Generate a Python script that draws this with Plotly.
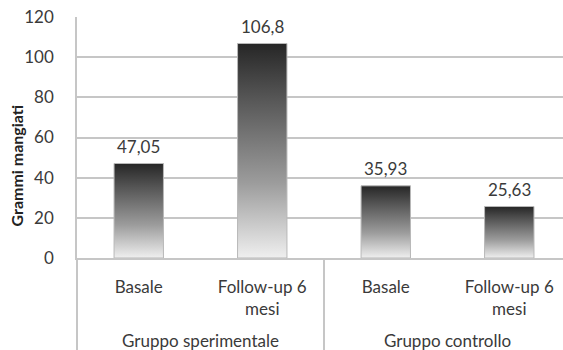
import plotly.graph_objects as go

# Data
groups = ["Gruppo sperimentale", "Gruppo sperimentale", "Gruppo controllo", "Gruppo controllo"]
phases = ["Basale", "Follow-up 6<br>mesi<br>&nbsp;", "Basale", "Follow-up 6<br>mesi<br>&nbsp;"]
values = [47.05, 106.8, 35.93, 25.63]
y_ticks = [0, 20, 40, 60, 80, 100, 120]

FONT = "Lato"
TEXT = "#3a3a3a"
GRID = "#c6c6c6"
BAR_HALF = 0.2
X_RANGE = [-0.5, 3.435]

fig = go.Figure()

# Invisible bars establish the two-level category axis
fig.add_trace(go.Bar(
    x=[groups, phases], y=values,
    marker=dict(color="rgba(0,0,0,0)", line=dict(width=0)),
    width=2 * BAR_HALF, hoverinfo="skip", showlegend=False,
))

# Gradient-filled bars drawn as closed shapes on an overlaid numeric axis
for i, v in enumerate(values):
    fig.add_trace(go.Scatter(
        x=[i - BAR_HALF, i - BAR_HALF, i + BAR_HALF, i + BAR_HALF, i - BAR_HALF],
        y=[0, v, v, 0, 0],
        xaxis="x2", yaxis="y",
        mode="lines", fill="toself",
        line=dict(color="#b8b8b8", width=1),
        fillgradient=dict(
            type="vertical",
            colorscale=[[0, "#efefef"], [0.35, "#9c9c9c"], [0.75, "#555555"], [1, "#262626"]],
        ),
        hoverinfo="skip", showlegend=False,
    ))

# Value labels above each bar
for i, v in enumerate(values):
    fig.add_annotation(
        x=i, y=v, xref="x2", yref="y",
        text=f"{v:g}".replace(".", ","),
        showarrow=False, yanchor="bottom", yshift=5,
        font=dict(family=FONT, size=17, color=TEXT),
    )

fig.add_annotation(
    x=-0.125, y=0.385, xref="paper", yref="paper",
    text="<b>Grammi mangiati</b>", textangle=-90,
    showarrow=False, xanchor="center", yanchor="middle",
    font=dict(family=FONT, size=16, color="#222222"),
)

fig.update_layout(
    width=563, height=350,
    margin=dict(l=77, r=0, t=17, b=92),
    paper_bgcolor="white", plot_bgcolor="white",
    font=dict(family=FONT, size=17, color=TEXT),
    xaxis=dict(
        type="multicategory", range=X_RANGE,
        showline=True, linecolor=GRID, linewidth=1.5,
        showgrid=False, ticks="", ticklabelstandoff=13,
        showdividers=True, dividercolor=GRID, dividerwidth=1.5,
        tickfont=dict(family=FONT, size=17, color=TEXT),
    ),
    xaxis2=dict(
        overlaying="x", range=X_RANGE, visible=False, fixedrange=True,
    ),
    yaxis=dict(
        range=[0, 120], tickvals=y_ticks,
        showgrid=True, gridcolor=GRID, gridwidth=1.5,
        showline=True, linecolor=GRID, linewidth=1.5,
        zeroline=False, ticks="", ticklabelstandoff=18,
        tickfont=dict(family=FONT, size=17, color=TEXT),
    ),
)

fig.write_html("out.html")
